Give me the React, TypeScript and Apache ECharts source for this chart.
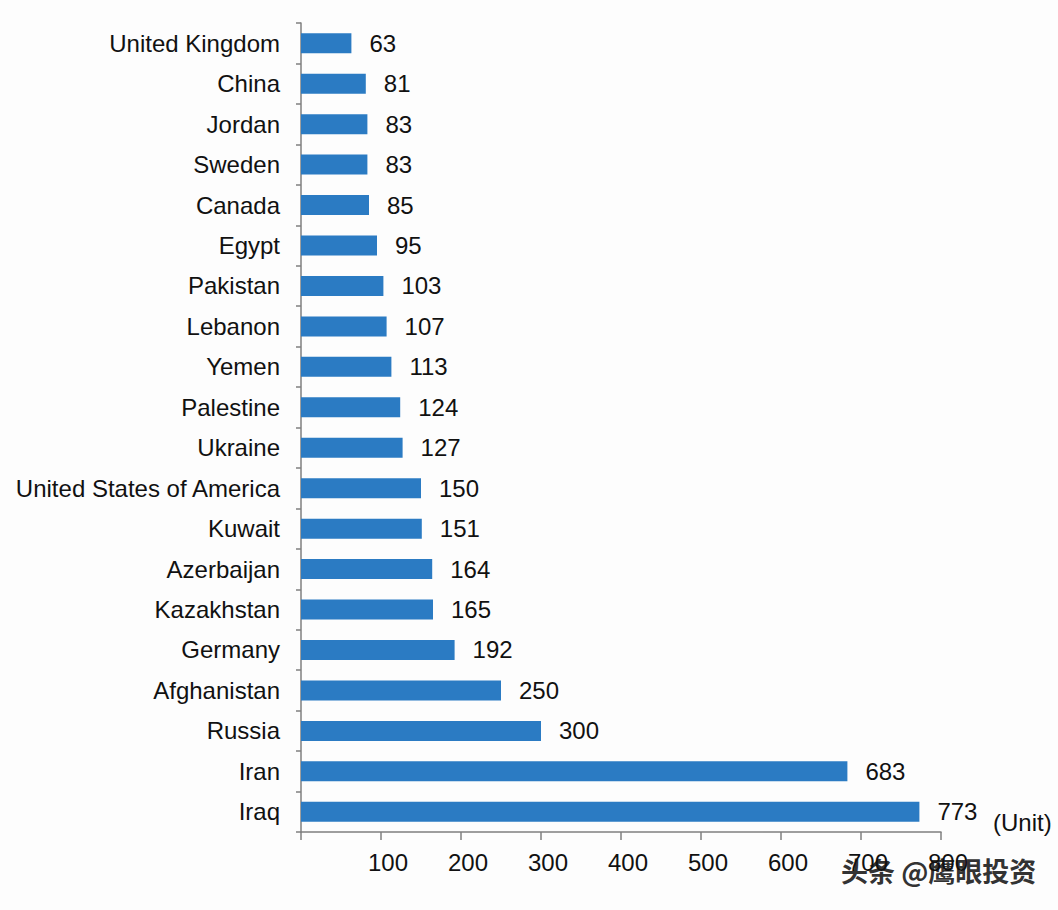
import React, { useEffect, useRef } from "react";
import * as echarts from "echarts";

const categories = [
  "United Kingdom", "China", "Jordan", "Sweden", "Canada", "Egypt", "Pakistan",
  "Lebanon", "Yemen", "Palestine", "Ukraine", "United States of America", "Kuwait",
  "Azerbaijan", "Kazakhstan", "Germany", "Afghanistan", "Russia", "Iran", "Iraq",
];
const values = [63, 81, 83, 83, 85, 95, 103, 107, 113, 124, 127, 150, 151, 164, 165, 192, 250, 300, 683, 773];
const unitLabel = "(Unit)";
const watermark = "头条 @鹰眼投资";

const FONT = "'Liberation Sans', Arial, sans-serif";

export default function App() {
  const ref = useRef<HTMLDivElement>(null);
  useEffect(() => {
    if (!ref.current) return;
    const chart = echarts.init(ref.current, undefined, { renderer: "svg" });
    chart.setOption({
      animation: false,
      backgroundColor: "#fdfdfd",
      textStyle: { fontFamily: FONT },
      grid: { left: 301, right: 117, top: 23, bottom: 78, containLabel: false },
      xAxis: {
        type: "value",
        min: 0,
        max: 800,
        interval: 100,
        splitLine: { show: false },
        axisLine: { show: true, lineStyle: { color: "#7f7f7f", width: 1.5 } },
        axisTick: { show: true, length: 8, lineStyle: { color: "#7f7f7f", width: 1.5 } },
        axisLabel: {
          color: "#111",
          fontSize: 24,
          fontFamily: FONT,
          margin: 18,
          padding: [0, 0, 0, 14],
          formatter: (v: number) => (v === 0 ? "" : String(v)),
        },
      },
      yAxis: {
        type: "category",
        data: categories,
        inverse: true,
        axisLine: { show: true, lineStyle: { color: "#7f7f7f", width: 1.5 } },
        axisTick: { show: true, length: 5, alignWithLabel: false, lineStyle: { color: "#7f7f7f", width: 1.5 } },
        axisLabel: { color: "#111", fontSize: 24, fontFamily: FONT, margin: 21, padding: [0, 0, 4, 0] },
        splitLine: { show: false },
      },
      series: [
        {
          type: "bar",
          data: values,
          barWidth: 20,
          itemStyle: { color: "#2b7bc3" },
          label: {
            show: true,
            position: "right",
            distance: 18,
            color: "#111",
            fontSize: 24,
            fontFamily: FONT,
          },
        },
      ],
      graphic: [
        {
          type: "text",
          left: 993,
          top: 810,
          style: { text: unitLabel, fontSize: 24, fontFamily: FONT, fill: "#111" },
        },
        {
          type: "text",
          left: 840,
          top: 856,
          style: {
            text: watermark,
            fontSize: 27,
            fontWeight: "bold",
            fontFamily: "'Noto Sans CJK SC', sans-serif",
            fill: "#333",
            stroke: "#ffffff",
            lineWidth: 2,
          },
        },
      ],
    });
    return () => chart.dispose();
  }, []);
  return (
    <div
      ref={ref}
      style={{ position: "absolute", left: 0, top: 0, width: 1058, height: 910 }}
    />
  );
}
